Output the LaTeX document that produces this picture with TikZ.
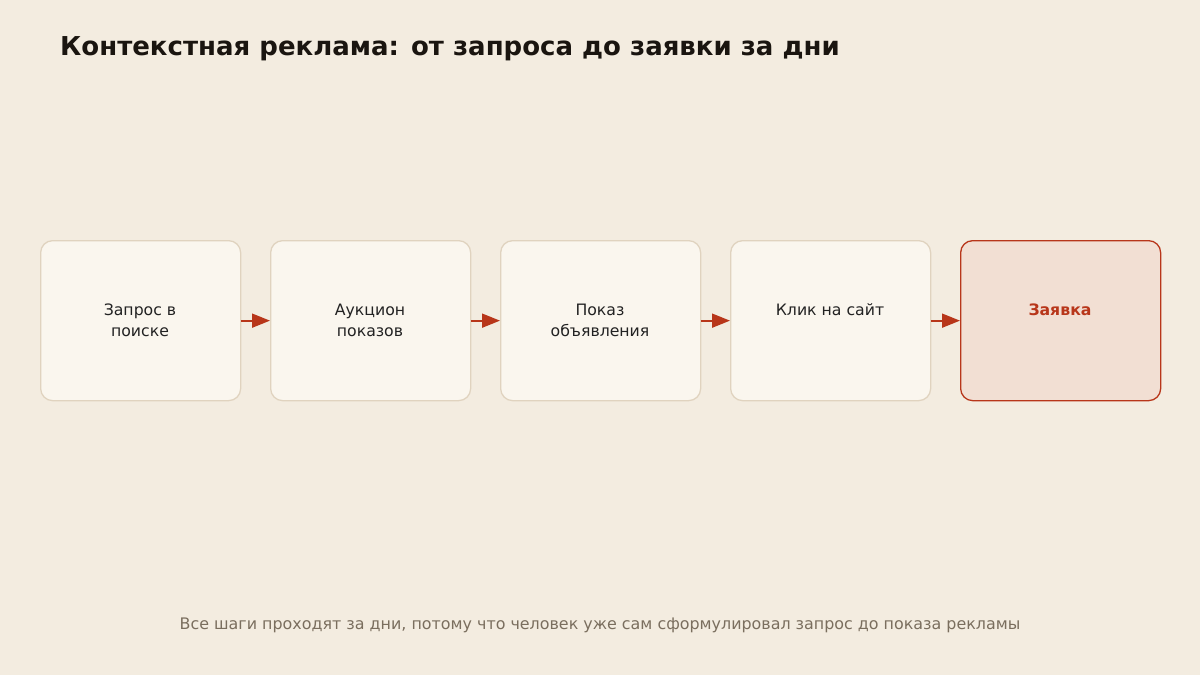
\documentclass[tikz,border=0pt]{standalone}
\usepackage{fontspec}
\setmainfont{DejaVu Sans}
\usetikzlibrary{arrows.meta}
\definecolor{bg}{HTML}{F3ECE0}
\definecolor{boxfill}{HTML}{FAF6EE}
\definecolor{boxline}{HTML}{E0D3BF}
\definecolor{hifill}{HTML}{F2DFD3}
\definecolor{accent}{HTML}{B8361A}
\definecolor{txt}{HTML}{222222}
\definecolor{titletxt}{HTML}{1A1510}
\definecolor{note}{HTML}{7A6E5E}
\tikzset{
  x=1pt,y=-1pt,
  stepbox/.style={draw=boxline,line width=1.3pt,fill=boxfill,rounded corners=12pt,minimum width=200pt,minimum height=160pt,inner sep=0pt,anchor=north west},
  hibox/.style={stepbox,draw=accent,fill=hifill},
  steptext/.style={align=center,anchor=base,font=\fontsize{15.7}{21}\selectfont,text=txt,inner sep=0pt},
  flow/.style={draw=accent,line width=1.8pt,-{Triangle[length=18pt,width=14pt]},shorten <=-0.5pt}
}
\begin{document}
\begin{tikzpicture}
\fill[bg] (0,0) rectangle (1200,675);
\useasboundingbox (0,0) rectangle (1200,675);
\node[anchor=base west,inner sep=0pt,font=\bfseries\fontsize{26}{30}\selectfont,text=titletxt] (title) at (60,55) {Контекстная реклама: от запроса до заявки за дни};
\node[stepbox] (b1) at (40,240) {};
\node[stepbox] (b2) at (270,240) {};
\node[stepbox] (b3) at (500,240) {};
\node[stepbox] (b4) at (730,240) {};
\node[hibox] (b5) at (960,240) {};
\node[steptext] (t1) at (140,336.5) {Запрос в\\поиске};
\node[steptext] (t2) at (370,336.5) {Аукцион\\показов};
\node[steptext] (t3) at (600,336.5) {Показ\\объявления};
\node[steptext] (t4) at (830,315.5) {Клик на сайт};
\node[steptext,font=\bfseries\fontsize{15.7}{21}\selectfont,text=accent] (t5) at (1060,315.5) {Заявка};
\draw[flow] (b1.east) -- (b2.west);
\draw[flow] (b2.east) -- (b3.west);
\draw[flow] (b3.east) -- (b4.west);
\draw[flow] (b4.east) -- (b5.west);
\node[anchor=base,inner sep=0pt,font=\fontsize{15.9}{18}\selectfont,text=note] (foot) at (600,629.5) {Все шаги проходят за дни, потому что человек уже сам сформулировал запрос до показа рекламы};
\end{tikzpicture}
\end{document}
